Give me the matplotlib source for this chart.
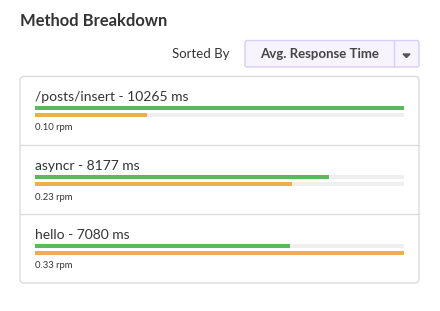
import matplotlib
matplotlib.use('Agg')
import matplotlib.pyplot as plt
from matplotlib.patches import FancyBboxPatch

# data
methods = ["/posts/insert", "asyncr", "hello"]
resp_ms = [10265, 8177, 7080]
rpm = [0.10, 0.23, 0.33]

GREEN = '#5cb85c'
ORANGE = '#f0ad4e'
TRACK = '#efefef'
TEXT = '#333333'

plt.rcParams['font.family'] = ['Lato', 'DejaVu Sans']

W, H = 440, 311
fig = plt.figure(figsize=(W / 100, H / 100), dpi=100)
ax = fig.add_axes([0, 0, 1, 1])
ax.set_xlim(0, W)
ax.set_ylim(H, 0)
ax.axis('off')

# header
ax.text(20, 21, 'Method Breakdown', fontsize=11.9, fontweight='bold',
        color=TEXT, va='center', ha='left')
ax.text(229, 54, 'Sorted By', fontsize=9.5, color=TEXT, va='center', ha='right')

btn = FancyBboxPatch((245, 40.5), 174, 26.5, boxstyle='round,pad=0,rounding_size=2',
                     facecolor='#f7f4fe', edgecolor='#d8cff5', linewidth=1)
ax.add_patch(btn)
ax.plot([394, 394], [40.5, 67], color='#d8cff5', lw=1)
ax.text(320, 54.5, 'Avg. Response Time', fontsize=9.5, fontweight='bold',
        color='#444444', va='center', ha='center')
ax.fill([403, 410, 406.5], [54, 54, 57.5], color='#555555')

# card
card = FancyBboxPatch((20, 76.5), 399, 206.5, boxstyle='round,pad=0,rounding_size=4',
                      facecolor='white', edgecolor='#dcdcdc', linewidth=1)
ax.add_patch(card)

row_h = 69
max_ms = max(resp_ms)
max_rpm = max(rpm)
for i, (name, ms, r) in enumerate(zip(methods, resp_ms, rpm)):
    y0 = 76 + i * row_h
    ax.text(35, y0 + 21, f'{name} - {ms} ms', fontsize=10, color=TEXT,
            va='center', ha='left')
    ax.text(35, y0 + 52, f'{r:.2f} rpm', fontsize=6.8, color=TEXT,
            va='center', ha='left')
    if i < len(methods) - 1:
        ax.plot([20, 419], [y0 + row_h, y0 + row_h], color='#dcdcdc', lw=1)

    # bars: green = response time, orange = requests per minute
    top = y0 + 28
    bax = fig.add_axes([35 / W, 1 - (top + 15) / H, 369 / W, 15 / H])
    bax.set_xlim(0, 1)
    bax.set_ylim(15, 0)
    bax.axis('off')
    bax.barh([4, 11], [1, 1], height=3.5, color=TRACK, left=0)
    bax.barh([4], [ms / max_ms], height=3.5, color=GREEN)
    bax.barh([11], [r / max_rpm], height=3.5, color=ORANGE)

fig.savefig('out.png', dpi=100)
